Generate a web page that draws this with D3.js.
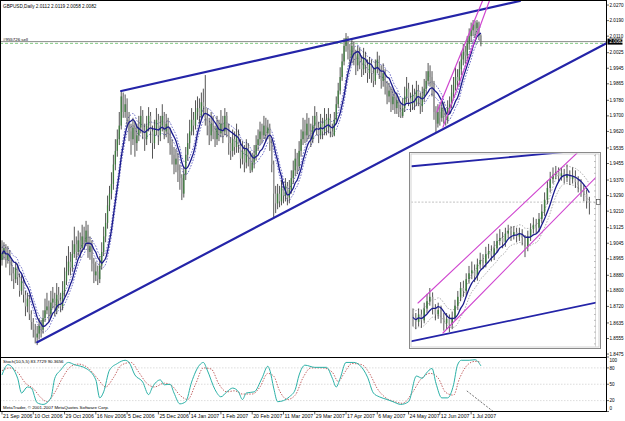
<!DOCTYPE html>
<html><head><meta charset="utf-8">
<script src="https://cdn.jsdelivr.net/npm/d3@7"></script>
<style>body{margin:0;background:#fff}svg{display:block}text{font-family:"Liberation Sans",Arial,sans-serif}</style>
</head><body><svg id="c" width="625" height="421"></svg>
<script>
// ---------------- DATA ----------------
const title = "GBPUSD,Daily  2.0112 2.0119 2.0058 2.0082";
const orderLabel = "#955726 sell";
const firstOpen = 1.8960;
const closes = [
1.8990,1.9020,1.8960,1.8990,1.8930,1.8890,1.8860,1.8920,1.8870,1.8800,
1.8850,1.8780,1.8720,1.8760,1.8680,1.8640,1.8600,1.8560,1.8580,1.8620,
1.8600,1.8660,1.8700,1.8720,1.8680,1.8740,1.8760,1.8700,1.8780,1.8750,
1.8720,1.8800,1.8850,1.8900,1.8950,1.8920,1.8990,1.9040,1.9000,1.9060,
1.9020,1.9080,1.9050,1.9110,1.9000,1.9030,1.8940,1.8880,1.8900,1.8860,
1.8930,1.9000,1.9080,1.9150,1.9240,1.9300,1.9350,1.9450,1.9520,1.9580,
1.9650,1.9800,1.9720,1.9760,1.9680,1.9620,1.9580,1.9640,1.9560,1.9600,
1.9640,1.9700,1.9620,1.9580,1.9650,1.9700,1.9620,1.9560,1.9630,1.9680,
1.9600,1.9650,1.9700,1.9620,1.9660,1.9610,1.9550,1.9500,1.9450,1.9480,
1.9420,1.9380,1.9300,1.9400,1.9500,1.9560,1.9620,1.9680,1.9650,1.9720,
1.9740,1.9700,1.9770,1.9750,1.9690,1.9650,1.9600,1.9660,1.9620,1.9580,
1.9640,1.9610,1.9660,1.9620,1.9700,1.9640,1.9560,1.9520,1.9580,1.9540,
1.9600,1.9550,1.9480,1.9520,1.9460,1.9530,1.9490,1.9420,1.9460,1.9500,
1.9550,1.9580,1.9620,1.9600,1.9650,1.9610,1.9640,1.9560,1.9450,1.9300,
1.9250,1.9300,1.9260,1.9330,1.9290,1.9340,1.9280,1.9320,1.9380,1.9420,
1.9480,1.9440,1.9520,1.9580,1.9620,1.9600,1.9660,1.9620,1.9580,1.9650,
1.9700,1.9640,1.9600,1.9660,1.9620,1.9680,1.9640,1.9690,1.9620,1.9600,
1.9680,1.9760,1.9830,1.9900,1.9980,2.0060,2.0100,2.0040,2.0000,2.0060,
2.0010,1.9960,2.0020,1.9980,1.9940,2.0000,1.9960,1.9920,1.9970,1.9920,
1.9880,1.9950,1.9990,1.9930,1.9880,1.9920,1.9850,1.9800,1.9830,1.9760,
1.9800,1.9740,1.9780,1.9720,1.9700,1.9740,1.9800,1.9840,1.9790,1.9760,
1.9810,1.9770,1.9830,1.9790,1.9750,1.9800,1.9840,1.9880,1.9930,1.9900,
1.9860,1.9720,1.9660,1.9720,1.9690,1.9740,1.9700,1.9680,1.9740,1.9760,
1.9820,1.9860,1.9900,1.9880,1.9940,1.9990,2.0030,2.0010,2.0070,2.0110,
2.0140,2.0170,2.0150,2.0180,2.0112,2.0082];
const highs = [
1.9060,1.9050,1.9040,1.9030,1.9010,1.8960,1.8920,1.8950,1.8940,1.8890,
1.8880,1.8870,1.8800,1.8790,1.8780,1.8700,1.8660,1.8630,1.8620,1.8660,
1.8650,1.8700,1.8760,1.8790,1.8750,1.8800,1.8820,1.8790,1.8840,1.8820,
1.8790,1.8850,1.8920,1.8980,1.9030,1.9000,1.9060,1.9130,1.9080,1.9110,
1.9100,1.9140,1.9130,1.9160,1.9140,1.9080,1.9060,1.8970,1.8950,1.8930,
1.8980,1.9050,1.9130,1.9200,1.9290,1.9340,1.9410,1.9500,1.9580,1.9630,
1.9720,1.9833,1.9820,1.9810,1.9790,1.9720,1.9660,1.9690,1.9670,1.9660,
1.9700,1.9750,1.9730,1.9660,1.9700,1.9745,1.9720,1.9650,1.9680,1.9740,
1.9710,1.9700,1.9760,1.9720,1.9710,1.9690,1.9640,1.9580,1.9540,1.9530,
1.9510,1.9450,1.9400,1.9440,1.9540,1.9610,1.9680,1.9740,1.9720,1.9780,
1.9800,1.9790,1.9820,1.9840,1.9910,1.9740,1.9690,1.9720,1.9700,1.9650,
1.9700,1.9680,1.9730,1.9700,1.9740,1.9720,1.9660,1.9590,1.9630,1.9620,
1.9660,1.9630,1.9580,1.9570,1.9550,1.9580,1.9560,1.9520,1.9510,1.9550,
1.9600,1.9630,1.9670,1.9660,1.9700,1.9690,1.9680,1.9660,1.9580,1.9470,
1.9340,1.9350,1.9340,1.9370,1.9360,1.9380,1.9360,1.9370,1.9420,1.9470,
1.9530,1.9510,1.9570,1.9630,1.9690,1.9680,1.9714,1.9690,1.9660,1.9700,
1.9750,1.9720,1.9670,1.9710,1.9690,1.9740,1.9710,1.9740,1.9710,1.9660,
1.9720,1.9800,1.9870,1.9950,2.0020,2.0100,2.0126,2.0110,2.0070,2.0090,
2.0080,2.0040,2.0060,2.0050,2.0010,2.0050,2.0030,1.9990,2.0003,1.9990,
1.9950,1.9990,2.0030,2.0010,1.9960,1.9970,1.9940,1.9880,1.9870,1.9850,
1.9840,1.9820,1.9820,1.9800,1.9760,1.9790,1.9850,1.9900,1.9870,1.9820,
1.9860,1.9840,1.9880,1.9860,1.9820,1.9850,1.9890,1.9930,1.9972,1.9960,
1.9930,1.9880,1.9750,1.9760,1.9750,1.9781,1.9770,1.9740,1.9780,1.9800,
1.9860,1.9900,1.9950,1.9940,1.9980,2.0030,2.0070,2.0060,2.0110,2.0150,
2.0180,2.0193,2.0190,2.0193,2.0185,2.0119];
const lows = [
1.8930,1.8960,1.8920,1.8940,1.8880,1.8850,1.8810,1.8840,1.8830,1.8770,
1.8780,1.8740,1.8670,1.8690,1.8650,1.8600,1.8560,1.8530,1.8521,1.8550,
1.8560,1.8580,1.8640,1.8680,1.8640,1.8660,1.8710,1.8670,1.8680,1.8710,
1.8690,1.8700,1.8770,1.8830,1.8880,1.8880,1.8900,1.8970,1.8960,1.8980,
1.8970,1.9000,1.9010,1.9030,1.8970,1.8960,1.8900,1.8840,1.8850,1.8830,
1.8840,1.8910,1.8980,1.9050,1.9120,1.9210,1.9270,1.9320,1.9420,1.9490,
1.9550,1.9630,1.9690,1.9690,1.9640,1.9570,1.9500,1.9550,1.9490,1.9520,
1.9570,1.9610,1.9580,1.9520,1.9550,1.9620,1.9560,1.9480,1.9530,1.9600,
1.9550,1.9570,1.9620,1.9580,1.9590,1.9560,1.9500,1.9450,1.9400,1.9410,
1.9360,1.9320,1.9267,1.9280,1.9370,1.9470,1.9530,1.9600,1.9600,1.9630,
1.9680,1.9660,1.9680,1.9700,1.9650,1.9600,1.9550,1.9570,1.9580,1.9540,
1.9550,1.9570,1.9590,1.9560,1.9600,1.9590,1.9500,1.9473,1.9490,1.9500,
1.9510,1.9510,1.9430,1.9450,1.9410,1.9430,1.9440,1.9406,1.9410,1.9430,
1.9470,1.9520,1.9550,1.9560,1.9580,1.9570,1.9580,1.9520,1.9410,1.9180,
1.9200,1.9220,1.9230,1.9240,1.9250,1.9260,1.9240,1.9250,1.9300,1.9350,
1.9390,1.9400,1.9420,1.9490,1.9550,1.9560,1.9570,1.9580,1.9540,1.9560,
1.9620,1.9600,1.9560,1.9580,1.9580,1.9600,1.9600,1.9610,1.9590,1.9591,
1.9595,1.9660,1.9740,1.9810,1.9880,1.9960,2.0030,1.9990,1.9950,1.9970,
1.9960,1.9910,1.9930,1.9940,1.9900,1.9910,1.9920,1.9870,1.9890,1.9870,
1.9848,1.9860,1.9920,1.9890,1.9840,1.9850,1.9810,1.9760,1.9770,1.9720,
1.9730,1.9710,1.9710,1.9694,1.9689,1.9690,1.9720,1.9770,1.9750,1.9720,
1.9730,1.9730,1.9750,1.9750,1.9710,1.9720,1.9770,1.9810,1.9860,1.9850,
1.9800,1.9680,1.9617,1.9640,1.9650,1.9670,1.9660,1.9650,1.9660,1.9710,
1.9740,1.9790,1.9830,1.9840,1.9860,1.9910,1.9960,1.9970,1.9990,2.0040,
2.0080,2.0110,2.0100,2.0120,2.0090,2.0058];

const bidPrice = 2.0082;
const orderPrice = 2.0073;
const priceTicks = [2.0270,2.0190,2.0110,2.0025,1.9945,1.9865,1.9780,1.9700,1.9620,1.9535,1.9455,1.9370,1.9290,1.9210,1.9125,1.9045,1.8965,1.8880,1.8800,1.8720,1.8635,1.8555,1.8475];
const dateLabels = ["21 Sep 2006","10 Oct 2006","29 Oct 2006","16 Nov 2006","5 Dec 2006","25 Dec 2006","14 Jan 2007","1 Feb 2007","20 Feb 2007","11 Mar 2007","29 Mar 2007","17 Apr 2007","6 May 2007","24 May 2007","12 Jun 2007","1 Jul 2007"];
const dateBars = [0,16,32,48,64,80,96,112,128,144,160,176,192,208,224,240];

// trend lines: [bar, price] anchor pairs
const wedgeUpper = [[61,1.9828],[265,2.0291]];
const wedgeLower = [[18,1.8536],[309.5,2.0075]];
const channelA = [[222.5,1.9720],[246,2.0296]];
const channelB = [[225.6,1.9642],[249.5,2.0296]];

// stochastic (10,5,5)
const stochTitle = "Stoch(10,5,5) 83.7729 90.3656";
const stochMainBars = [0,3,8,10,13,15,18,21,25,27,30,34,37,43,48,50,52,55,59,63,65,68,72,75,77,81,83,86,88,91,94,97,101,103,105,109,112,115,118,121,123,125,129,133,136,137,139,141,144,147,150,152,155,160,166,169,171,173,176,180,183,187,190,193,197,200,204,208,212,215,217,220,222,225,228,231,233,235,239,242,245];
const stochMain = [67,86,61,34,45,43,16,13,25,61,76,90,86,79,58,25,36,76,88,94,90,67,54,31,45,58,49,50,34,14,18,54,85,90,76,40,27,36,43,36,22,34,36,61,83,76,43,18,20,27,40,67,85,81,81,61,45,61,90,90,85,63,34,27,22,18,13,18,65,61,70,79,52,25,25,49,85,94,94,95,83.77];
const stochSigBars = [0,4,8,12,16,20,23,27,31,35,39,44,49,53,57,61,66,70,74,78,83,87,91,95,99,103,107,111,115,119,123,128,132,136,139,142,146,150,154,158,164,169,172,175,179,184,188,192,196,201,205,210,214,219,223,227,231,234,238,242,245];
const stochSig = [75,80,72,52,42,25,18,35,62,82,87,80,60,45,62,85,90,72,52,45,52,47,30,22,50,80,78,50,36,38,32,32,45,70,65,38,22,30,62,80,80,72,55,70,88,86,70,42,26,18,15,35,58,70,62,35,30,60,85,92,90.37];
const stochLevels = [80,50,20];
const stochTicks = [100,80,50,20,0];
const stochTrend = [[237.8,37.8],[252,-2]];
const copyright = "MetaTrader, \u00a9 2001-2007 MetaQuotes Software Corp.";

// inset (shorter time-frame snapshot)
const insetFirstOpen = 1.9700;
const insetCloses = [
1.9690,1.9675,1.9700,1.9680,1.9720,1.9745,1.9760,1.9720,1.9700,1.9715,
1.9690,1.9670,1.9685,1.9665,1.9690,1.9730,1.9760,1.9790,1.9780,1.9820,
1.9840,1.9850,1.9830,1.9870,1.9885,1.9875,1.9905,1.9915,1.9900,1.9925,
1.9950,1.9960,1.9945,1.9975,1.9985,1.9970,1.9980,1.9965,1.9975,1.9960,
1.9930,1.9965,1.9990,2.0005,1.9995,2.0025,2.0050,2.0090,2.0130,2.0160,
2.0175,2.0185,2.0170,2.0180,2.0165,2.0175,2.0160,2.0170,2.0150,2.0140,
2.0120,2.0110,2.0085,2.0080];
const insetHighs = [
1.9720,1.9705,1.9720,1.9715,1.9740,1.9770,1.9790,1.9775,1.9735,1.9740,
1.9730,1.9705,1.9705,1.9700,1.9710,1.9750,1.9780,1.9810,1.9815,1.9840,
1.9865,1.9880,1.9870,1.9890,1.9910,1.9905,1.9930,1.9940,1.9935,1.9950,
1.9975,1.9990,1.9980,1.9995,2.0005,2.0000,2.0000,1.9995,1.9995,1.9990,
1.9970,1.9985,2.0010,2.0030,2.0025,2.0045,2.0075,2.0115,2.0155,2.0185,
2.0200,2.0205,2.0200,2.0200,2.0195,2.0210,2.0190,2.0200,2.0190,2.0170,
2.0160,2.0140,2.0125,2.0100];
const insetLows = [
1.9660,1.9650,1.9660,1.9655,1.9670,1.9705,1.9730,1.9700,1.9680,1.9685,
1.9670,1.9645,1.9650,1.9640,1.9650,1.9680,1.9715,1.9745,1.9760,1.9765,
1.9805,1.9820,1.9810,1.9815,1.9855,1.9855,1.9860,1.9890,1.9880,1.9885,
1.9910,1.9935,1.9925,1.9930,1.9960,1.9950,1.9955,1.9945,1.9950,1.9935,
1.9895,1.9915,1.9950,1.9975,1.9975,1.9980,2.0010,2.0035,2.0075,2.0115,
2.0145,2.0160,2.0150,2.0155,2.0145,2.0150,2.0140,2.0145,2.0130,2.0115,
2.0100,2.0085,2.0060,2.0040];
const insetLevel = 2.0082;
const insetTop = [[-0.36,2.0204],[53.6,2.0252]];
const insetBottom = [[-0.36,1.9609],[66.1,1.9742]];
const insetMagUpper = [[1.79,1.9739],[58.6,2.0249]];
const insetMagLower = [[10.7,1.9637],[66.1,2.0174]];

// ---------------- DRAWING ----------------
const svg = d3.select("#c");
const R = 606, MB = 357, SB = 411;
const x = d3.scaleLinear().domain([0,309]).range([2,R]);
const y = d3.scaleLinear().domain([1.8465,2.0296]).range([356,0]);
const ys = d3.scaleLinear().domain([0,100]).range([411.5,357]);
const fmt = d3.format(".4f");

svg.append("rect").attr("width",625).attr("height",421).attr("fill","#fff");
const defs = svg.append("defs");
defs.append("clipPath").attr("id","cm").append("rect").attr("x",0).attr("y",0).attr("width",R).attr("height",MB);
defs.append("clipPath").attr("id","cs").append("rect").attr("x",0).attr("y",MB+0.5).attr("width",R).attr("height",SB-MB-0.5);
defs.append("clipPath").attr("id","ci").append("rect").attr("x",411.5).attr("y",153.5).attr("width",184).attr("height",193);

const main = svg.append("g").attr("clip-path","url(#cm)");

function sma(arr, n){ return arr.map((v,i)=>{const s=Math.max(0,i-n+1);const a=arr.slice(s,i+1);return d3.mean(a);}); }

function drawCandles(g, xs, yy, cl, hi, lo, o0, bw, upC, dnC){
  const data = cl.map((c,i)=>({i, o: i?cl[i-1]:o0, c, h:hi[i], l:lo[i]}));
  g.selectAll(null).data(data).enter().append("line")
    .attr("x1",d=>xs(d.i)).attr("x2",d=>xs(d.i))
    .attr("y1",d=>yy(d.h)).attr("y2",d=>yy(d.l))
    .attr("stroke","#2a2a2a").attr("stroke-width",0.8);
  g.selectAll(null).data(data).enter().append("rect")
    .attr("x",d=>xs(d.i)-bw/2).attr("width",bw)
    .attr("y",d=>yy(Math.max(d.o,d.c)))
    .attr("height",d=>Math.max(0.6,Math.abs(yy(d.o)-yy(d.c))))
    .attr("fill",d=>d.c>=d.o?upC:dnC);
}

// horizontal bid / order lines
main.append("line").attr("x1",0).attr("x2",R).attr("y1",y(bidPrice)).attr("y2",y(bidPrice)).attr("stroke","#6e6e6e").attr("stroke-width",0.8);
main.append("line").attr("x1",0).attr("x2",R).attr("y1",y(orderPrice)).attr("y2",y(orderPrice)).attr("stroke","#66bb66").attr("stroke-width",0.8).attr("stroke-dasharray","3,2");
svg.append("text").attr("x",3).attr("y",y(bidPrice)-1).attr("font-size",4.4).attr("fill","#000").text(orderLabel);

// MA + envelopes
const ma = sma(closes, 8);
const lineMain = d3.line().x(d=>x(d[0])).y(d=>y(d[1])).curve(d3.curveMonotoneX);
main.append("path").attr("d",lineMain(ma.map((v,i)=>[i,v*1.0016]))).attr("fill","none").attr("stroke","#3434b0").attr("stroke-width",0.7).attr("stroke-dasharray","1.6,1.4");
main.append("path").attr("d",lineMain(ma.map((v,i)=>[i,v*0.9984]))).attr("fill","none").attr("stroke","#3434b0").attr("stroke-width",0.7).attr("stroke-dasharray","1.6,1.4");

drawCandles(main, x, y, closes, highs, lows, firstOpen, 1.3, "#3f7d3f", "#9a9a9a");

main.append("path").attr("d",lineMain(ma.map((v,i)=>[i,v]))).attr("fill","none").attr("stroke","#1b1b8c").attr("stroke-width",1.3);

// trend lines
const seg = (g, pts, sx, sy, col, w) => g.append("line")
  .attr("x1",sx(pts[0][0])).attr("y1",sy(pts[0][1])).attr("x2",sx(pts[1][0])).attr("y2",sy(pts[1][1]))
  .attr("stroke",col).attr("stroke-width",w).attr("stroke-linecap","round");
seg(main, wedgeUpper, x, y, "#2424a8", 2.2);
seg(main, wedgeLower, x, y, "#2424a8", 2.2);
seg(main, channelA, x, y, "#d048d0", 1.2);
seg(main, channelB, x, y, "#d048d0", 1.2);

// ---------- inset ----------
const ix = d3.scaleLinear().domain([0,63]).range([413,589.4]);
const iy = d3.scaleLinear().domain([1.9586,2.0249]).range([348,153]);
svg.append("rect").attr("x",409.5).attr("y",152.5).attr("width",191).attr("height",196).attr("fill","#fff").attr("stroke","#8a8a8a").attr("stroke-width",1);
svg.append("rect").attr("x",411).attr("y",154).attr("width",188).attr("height",193).attr("fill","none").attr("stroke","#c8c8c8").attr("stroke-width",0.8);
const ins = svg.append("g").attr("clip-path","url(#ci)");
// inset axis ticks
ins.append("line").attr("x1",595.5).attr("x2",595.5).attr("y1",154).attr("y2",347).attr("stroke","#777").attr("stroke-width",0.6);
ins.selectAll(null).data(iy.ticks(40)).enter().append("line")
  .attr("x1",594).attr("x2",597).attr("y1",d=>iy(d)).attr("y2",d=>iy(d)).attr("stroke","#777").attr("stroke-width",0.5);
ins.append("line").attr("x1",411).attr("x2",595).attr("y1",iy(insetLevel)).attr("y2",iy(insetLevel)).attr("stroke","#9a9a9a").attr("stroke-width",0.6).attr("stroke-dasharray","2,1.5");
const ima = sma(insetCloses, 6);
const lineIns = d3.line().x(d=>ix(d[0])).y(d=>iy(d[1])).curve(d3.curveMonotoneX);
ins.append("path").attr("d",lineIns(ima.map((v,i)=>[i,v+0.0030]))).attr("fill","none").attr("stroke","#777").attr("stroke-width",0.6).attr("stroke-dasharray","1.5,1.5");
ins.append("path").attr("d",lineIns(ima.map((v,i)=>[i,v-0.0030]))).attr("fill","none").attr("stroke","#777").attr("stroke-width",0.6).attr("stroke-dasharray","1.5,1.5");
drawCandles(ins, ix, iy, insetCloses, insetHighs, insetLows, insetFirstOpen, 1.5, "#3f7d3f", "#9a9a9a");
ins.append("path").attr("d",lineIns(ima.map((v,i)=>[i,v]))).attr("fill","none").attr("stroke","#1b1b8c").attr("stroke-width",1.3);
seg(ins, insetTop, ix, iy, "#2424a8", 1.8);
seg(ins, insetBottom, ix, iy, "#2424a8", 1.8);
seg(ins, insetMagUpper, ix, iy, "#d048d0", 1.1);
seg(ins, insetMagLower, ix, iy, "#d048d0", 1.1);
svg.append("rect").attr("x",596.5).attr("y",iy(insetLevel)-2.5).attr("width",3.5).attr("height",5).attr("fill","#fff").attr("stroke","#333").attr("stroke-width",0.6);

// ---------- stochastic ----------
const st = svg.append("g").attr("clip-path","url(#cs)");
st.selectAll(null).data(stochLevels).enter().append("line")
  .attr("x1",0).attr("x2",R).attr("y1",d=>ys(d)).attr("y2",d=>ys(d))
  .attr("stroke","#c4c4c4").attr("stroke-width",0.6).attr("stroke-dasharray","1.5,1.5");
const lineSt = d3.line().x(d=>x(d[0])).y(d=>ys(d[1])).curve(d3.curveMonotoneX);
st.append("path").attr("d",lineSt(stochSigBars.map((b,i)=>[b,stochSig[i]]))).attr("fill","none").attr("stroke","#b23a3a").attr("stroke-width",0.8).attr("stroke-dasharray","1.4,1.4");
st.append("path").attr("d",lineSt(stochMainBars.map((b,i)=>[b,stochMain[i]]))).attr("fill","none").attr("stroke","#2bb0a6").attr("stroke-width",1);
st.append("line").attr("x1",x(stochTrend[0][0])).attr("y1",ys(stochTrend[0][1])).attr("x2",x(stochTrend[1][0])).attr("y2",ys(stochTrend[1][1]))
  .attr("stroke","#333").attr("stroke-width",0.7).attr("stroke-dasharray","2,1.5");
svg.append("text").attr("x",3).attr("y",363).attr("font-size",4.4).attr("fill","#000").text(stochTitle);
svg.append("text").attr("x",3).attr("y",409).attr("font-size",4.4).attr("fill","#000").text(copyright);

// ---------- frame ----------
const fr = svg.append("g").attr("stroke","#000").attr("stroke-width",1);
fr.append("line").attr("x1",0).attr("x2",R).attr("y1",0.5).attr("y2",0.5);
fr.append("line").attr("x1",0.5).attr("x2",0.5).attr("y1",0).attr("y2",SB);
fr.append("line").attr("x1",R+0.5).attr("x2",R+0.5).attr("y1",0).attr("y2",SB+1);
fr.append("line").attr("x1",0).attr("x2",R).attr("y1",MB+0.5).attr("y2",MB+0.5);
fr.append("line").attr("x1",0).attr("x2",R).attr("y1",SB+0.5).attr("y2",SB+0.5);

// title
svg.append("text").attr("x",3).attr("y",8).attr("font-size",4.7).attr("fill","#000").text(title);

// price axis
const pa = svg.append("g");
pa.selectAll(null).data(priceTicks).enter().append("line")
  .attr("x1",R).attr("x2",R+3).attr("y1",d=>y(d)).attr("y2",d=>y(d)).attr("stroke","#000").attr("stroke-width",0.6);
pa.selectAll(null).data(priceTicks).enter().append("text")
  .attr("x",609.5).attr("y",d=>y(d)+1.6).attr("font-size",4.6).attr("fill","#000").text(d=>fmt(d));
pa.append("rect").attr("x",607.5).attr("y",y(bidPrice)-3).attr("width",15).attr("height",6).attr("fill","#000");
pa.append("text").attr("x",609.5).attr("y",y(bidPrice)+1.7).attr("font-size",4.6).attr("fill","#fff").text(fmt(bidPrice));

// stoch axis
svg.selectAll(null).data(stochTicks).enter().append("line")
  .attr("x1",R).attr("x2",R+3).attr("y1",d=>ys(d)).attr("y2",d=>ys(d)).attr("stroke","#000").attr("stroke-width",0.6);
svg.selectAll(null).data(stochTicks).enter().append("text")
  .attr("x",609.5).attr("y",d=>Math.min(408,Math.max(360,ys(d)))+1.6).attr("font-size",4.6).attr("fill","#000").text(d=>d);

// date axis
svg.selectAll(null).data(dateBars).enter().append("line")
  .attr("x1",d=>x(d)).attr("x2",d=>x(d)).attr("y1",SB).attr("y2",SB+3.5).attr("stroke","#000").attr("stroke-width",0.6);
svg.selectAll(null).data(dateBars).enter().append("text")
  .attr("x",d=>x(d)+1).attr("y",418).attr("font-size",5.2).attr("fill","#000").text((d,i)=>dateLabels[i]);
</script></body></html>
